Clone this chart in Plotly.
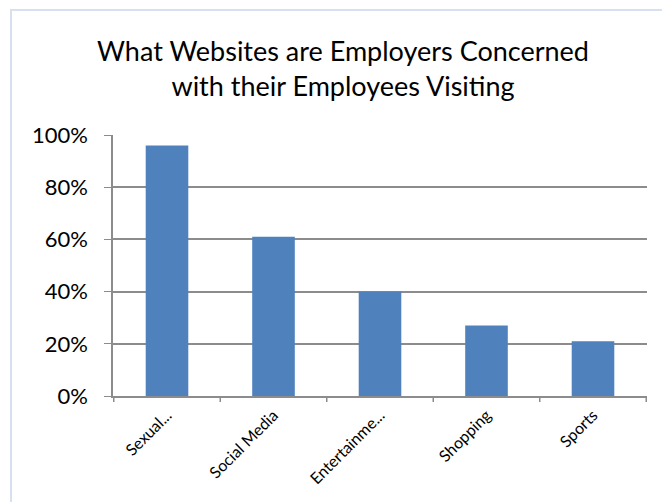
import plotly.graph_objects as go

categories = ["Sexual...", "Social Media", "Entertainme...", "Shopping", "Sports"]
values = [0.96, 0.61, 0.40, 0.27, 0.21]
y_ticks = [0, 0.2, 0.4, 0.6, 0.8, 1.0]
y_tick_labels = ["0%", "20%", "40%", "60%", "80%", "100%"]
title_text = "What Websites are Employers Concerned<br>with their Employees Visiting"

W, H = 662, 502
L, R, T, B = 113, 15, 135, 106
pw, ph = W - L - R, H - T - B

def px(x):
    return (x - L) / pw

def py(y):
    return (H - B - y) / ph

fig = go.Figure(go.Bar(
    x=categories, y=values, marker=dict(color="#4F81BD", line=dict(width=0)),
    width=0.4,
))

fig.update_layout(
    width=W, height=H,
    margin=dict(l=L, r=R, t=T, b=B),
    paper_bgcolor="white", plot_bgcolor="white",
    font=dict(family="Lato", color="black", weight=400),
    title=dict(text=title_text, x=(343 - L) / pw, xanchor="center", xref="paper",
               y=1 - 61 / H, yanchor="middle",
               font=dict(size=27, family="Lato", color="black", weight=400)),
    showlegend=False,
    bargap=0.6,
)
fig.update_yaxes(
    range=[0, 1.0], tickvals=y_ticks, ticktext=y_tick_labels,
    showgrid=True, gridcolor="#8c8c8c", gridwidth=1.5,
    showline=True, linecolor="#8c8c8c", linewidth=1.5,
    ticks="outside", ticklen=7, tickcolor="#8c8c8c",
    ticklabelstandoff=12,
    tickfont=dict(size=22, color="black", family="Lato", weight=400), zeroline=False,
)
fig.update_xaxes(
    showline=True, linecolor="#8c8c8c", linewidth=1.5,
    tickangle=-45, tickfont=dict(size=16, color="black", family="Lato", weight=400),
    ticks="", showgrid=False, ticklabelstandoff=2,
)
# category boundary tick marks
for i in range(len(categories) + 1):
    fig.add_shape(type="line", xref="x", yref="paper",
                  x0=i - 0.5, x1=i - 0.5, y0=0, y1=-6 / ph,
                  line=dict(color="#8c8c8c", width=1.5))
# chart border
fig.add_shape(type="rect", xref="paper", yref="paper",
              x0=px(11), x1=px(700), y0=py(10), y1=py(560),
              line=dict(color="#d6e0ef", width=2), fillcolor="rgba(0,0,0,0)",
              layer="below")

fig.write_html("out.html")
